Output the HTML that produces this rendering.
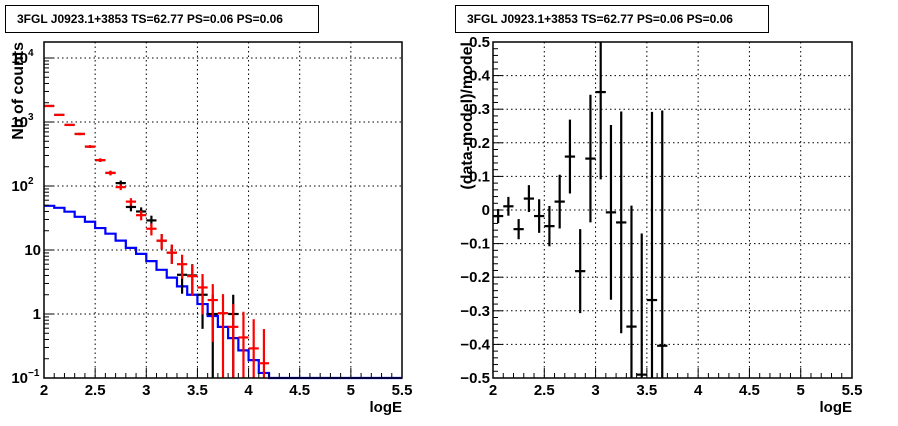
<!DOCTYPE html>
<html><head><meta charset="utf-8"><style>
body{margin:0;background:#fff;width:898px;height:421px;overflow:hidden;font-family:"Liberation Sans",Arial,sans-serif}
svg text{font-family:"Liberation Sans",Arial,sans-serif;font-weight:bold}
</style></head><body>
<svg id="c" width="898" height="421" xmlns="http://www.w3.org/2000/svg">
<rect x="0" y="0" width="898" height="421" fill="#fff"/>
<g><rect x="5.5" y="5.5" width="313" height="27" fill="#fff" stroke="#000"/><text x="17" y="23" font-size="12">3FGL J0923.1+3853 TS=62.77 PS=0.06 PS=0.06</text></g>
<g><rect x="455.5" y="5.5" width="313" height="27" fill="#fff" stroke="#000"/><text x="467" y="23" font-size="12">3FGL J0923.1+3853 TS=62.77 PS=0.06 PS=0.06</text></g>
<g id="L"></g><g id="R"></g>
</svg>
<script>
// ---- data: left panel (counts) ----
const binCenters = [2.05,2.15,2.25,2.35,2.45,2.55,2.65,2.75,2.85,2.95,3.05,3.15,3.25,3.35,3.45,3.55,3.65,3.75,3.85,3.95,4.05,4.15];
const redCounts = [1780,1290,900,650,413,254,160,96,57,35,21.5,14,9.1,6.0,3.9,2.6,1.65,1.03,0.63,0.43,0.29,0.17];
const blackX = [2.05,2.15,2.25,2.35,2.45,2.55,2.65,2.75,2.85,2.95,3.05,3.15,3.25,3.35,3.45,3.55,3.65,3.85];
const blackCounts = [1780,1290,900,650,413,254,160,111,47,40,29,14,9.1,4.1,4.0,2.0,1.0,1.0];
const modelEdges = [2.0,2.1,2.2,2.3,2.4,2.5,2.6,2.7,2.8,2.9,3.0,3.1,3.2,3.3,3.4,3.5,3.6,3.7,3.8,3.9,4.0,4.1,4.2,5.5];
const modelCounts = [49,45.6,39.7,33,27.6,22,18,14,10.8,8.7,6.7,4.9,3.7,2.7,2.0,1.43,0.93,0.63,0.42,0.27,0.19,0.12,0.1];
const xTicks = ["2","2.5","3","3.5","4","4.5","5","5.5"];
// ---- data: right panel (residuals) ----
const resX = [2.05,2.15,2.25,2.35,2.45,2.55,2.65,2.75,2.85,2.95,3.05,3.15,3.25,3.35,3.45,3.55,3.65];
const resVal = [-0.018,0.011,-0.057,0.034,-0.018,-0.048,0.025,0.159,-0.182,0.153,0.351,-0.007,-0.037,-0.347,-0.49,-0.268,-0.404];
const resErr = [0.021,0.028,0.03,0.04,0.05,0.06,0.08,0.11,0.125,0.19,0.26,0.26,0.33,0.36,0.42,0.56,0.7];
const rTicks = ["0.5","0.4","0.3","0.2","0.1","0","\u22120.1","\u22120.2","\u22120.3","\u22120.4","\u22120.5"];

const NS="http://www.w3.org/2000/svg";
function mk(p,tag,at){const e=document.createElementNS(NS,tag);for(const k in at)e.setAttribute(k,at[k]);p.appendChild(e);return e;}
function txt(p,x,y,s,size,anchor,name){const t=mk(p,'text',{x:x,y:y,'font-size':size,'text-anchor':anchor||'middle'});t.textContent=s;


return t;}

// Left panel
const L=document.getElementById('L');
const lx0=44,lx1=402,ly0=42,ly1=378;
const xL=v=>lx0+(v-2)/3.5*(lx1-lx0);
const yL=v=>{const lv=Math.log10(Math.max(v,0.1));return ly1-(lv+1)/5.25*(ly1-ly0);};
const lgrid=mk(L,'g',{});


for(let i=1;i<7;i++){const x=xL(2+i*0.5);mk(lgrid,'line',{x1:x,x2:x,y1:ly0,y2:ly1,stroke:'#000','stroke-dasharray':'1.5,3','stroke-width':1});}
for(let d=0;d<=4;d++){const y=yL(Math.pow(10,d));mk(lgrid,'line',{x1:lx0,x2:lx1,y1:y,y2:y,stroke:'#000','stroke-dasharray':'1.5,3','stroke-width':1});}
// model step
let pts=[];for(let i=0;i<modelCounts.length;i++){const y=yL(modelCounts[i]);pts.push(xL(modelEdges[i])+','+y);pts.push(xL(modelEdges[i+1])+','+y);}
const ml=mk(L,'polyline',{points:pts.join(' '),fill:'none',stroke:'#0000ff','stroke-width':2.2});


function errPts(g,xs,vs,color,name){for(let i=0;i<xs.length;i++){const v=vs[i],e=Math.sqrt(v);const x=xL(xs[i]),y=yL(v);
const gg=mk(g,'g',{});


mk(gg,'line',{x1:xL(xs[i]-0.05),x2:xL(xs[i]+0.05),y1:y,y2:y,stroke:color,'stroke-width':2.2});
mk(gg,'line',{x1:x,x2:x,y1:yL(v+e),y2:Math.min(yL(v-e>0?v-e:0.05),ly1),stroke:color,'stroke-width':2.2});}}
const bg=mk(L,'g',{});errPts(bg,blackX,blackCounts,'#000','data-point-black');
const rg=mk(L,'g',{});errPts(rg,binCenters,redCounts,'#ff0000','data-point-red');
mk(L,'rect',{x:lx0,y:ly0,width:lx1-lx0,height:ly1-ly0,fill:'none',stroke:'#000','stroke-width':1.5});
// x ticks
for(let i=0;i<=35;i++){const x=xL(2+i*0.1);mk(L,'line',{x1:x,x2:x,y1:ly1,y2:ly1-(i%5==0?10:5),stroke:'#000','stroke-width':1});}
xTicks.forEach((s,i)=>txt(L,xL(2+i*0.5),395,s,15,'middle','x-tick-label'));
txt(L,lx1,412,'logE',15,'end','x-axis-title');
// y ticks
for(let d=-1;d<=4;d++){for(let m=1;m<=9;m++){const v=m*Math.pow(10,d);const lv=Math.log10(v);if(lv>4.25)continue;const y=yL(v);mk(L,'line',{x1:lx0,x2:lx0+(m==1?10:5),y1:y,y2:y,stroke:'#000','stroke-width':1});}}
const yl=[['10','\u22121',-1],['1','',0],['10','',1],['10','2',2],['10','3',3],['10','4',4]];
yl.forEach(a=>{const y=yL(Math.pow(10,a[2]))+5;if(a[1]){const t=txt(L,a[1]==''?41:28,y,a[0],15,'end','y-tick-label');const s=txt(L,28,y-7,a[1],10,'start','y-tick-exponent');}else{txt(L,41,y,a[0],15,'end','y-tick-label');}});
const yt=txt(L,0,0,'Nb of counts',16,'end','y-axis-title');yt.setAttribute('transform','translate(23,42) rotate(-90)');

// Right panel
const R=document.getElementById('R');
const rx0=493,rx1=852,ry0=42,ry1=378;
const xR=v=>rx0+(v-2)/3.5*(rx1-rx0);
const yR=v=>ry0+(0.5-v)*(ry1-ry0);
const rgrid=mk(R,'g',{});


for(let i=1;i<7;i++){const x=xR(2+i*0.5);mk(rgrid,'line',{x1:x,x2:x,y1:ry0,y2:ry1,stroke:'#000','stroke-dasharray':'1.5,3'});}
for(let i=1;i<10;i++){const y=yR(0.5-i*0.1);mk(rgrid,'line',{x1:rx0,x2:rx1,y1:y,y2:y,stroke:'#000','stroke-dasharray':'1.5,3'});}
for(let i=0;i<resX.length;i++){const g=mk(R,'g',{});


const x=xR(resX[i]),y=yR(resVal[i]);
mk(g,'line',{x1:xR(resX[i]-0.05),x2:xR(resX[i]+0.05),y1:y,y2:y,stroke:'#000','stroke-width':2.2});
mk(g,'line',{x1:x,x2:x,y1:Math.max(yR(resVal[i]+resErr[i]),ry0),y2:Math.min(yR(resVal[i]-resErr[i]),ry1),stroke:'#000','stroke-width':2.2});}
mk(R,'rect',{x:rx0,y:ry0,width:rx1-rx0,height:ry1-ry0,fill:'none',stroke:'#000','stroke-width':1.5});
for(let i=0;i<=35;i++){const x=xR(2+i*0.1);mk(R,'line',{x1:x,x2:x,y1:ry1,y2:ry1-(i%5==0?10:5),stroke:'#000'});}
for(let i=0;i<=50;i++){const y=yR(0.5-i*0.02);mk(R,'line',{x1:rx0,x2:rx0+(i%5==0?10:5),y1:y,y2:y,stroke:'#000'});}
xTicks.forEach((s,i)=>txt(R,xR(2+i*0.5),395,s,15,'middle','x-tick-label'));
txt(R,rx1,412,'logE',15,'end','x-axis-title');
rTicks.forEach((s,i)=>txt(R,490,yR(0.5-i*0.1)+5,s,15,'end','y-tick-label'));
const ryt=txt(R,0,0,'(data-model)/model',16,'end','y-axis-title');ryt.setAttribute('transform','translate(472,42) rotate(-90)');
</script>
</body></html>
